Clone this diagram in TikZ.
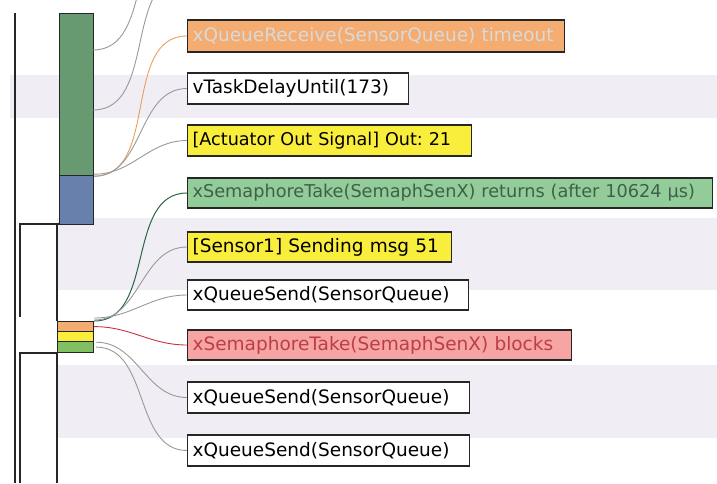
\documentclass[tikz,border=0pt]{standalone}
\usepackage{fontspec}
\setmainfont{DejaVu Sans}
\usepackage{xcolor}
\usetikzlibrary{positioning}

\definecolor{runcol}{RGB}{104,154,114}
\definecolor{waitcol}{RGB}{104,128,172}
\definecolor{orangecol}{RGB}{244,172,112}
\definecolor{yellowcol}{RGB}{250,238,60}
\definecolor{greencol}{RGB}{146,204,152}
\definecolor{redcol}{RGB}{246,164,164}
\definecolor{stackgreen}{RGB}{128,192,96}
\definecolor{bandcol}{RGB}{241,237,245}
\definecolor{redline}{RGB}{200,50,64}
\definecolor{greenline}{RGB}{40,104,64}

\begin{document}
\begin{tikzpicture}[
  x=1pt, y=-1pt,
  evt/.style={draw=black!85, line width=1.2pt, fill=white, anchor=west,
    inner xsep=5pt, inner ysep=0pt, align=left,
    font=\fontsize{18.5}{20}\selectfont},
  orangeevt/.style={evt, fill=orangecol, text=white!85!black},
  yellowevt/.style={evt, fill=yellowcol},
  greenevt/.style={evt, fill=greencol, text={rgb,255:red,64;green,96;blue,74},
    font=\fontsize{17.7}{20}\selectfont},
  redevt/.style={evt, fill=redcol, text={rgb,255:red,188;green,62;blue,72}},
  block/.style={draw=black!85, line width=1.2pt, anchor=north west, inner sep=0pt},
  lane/.style={line width=1.2pt, black!85},
  link/.style={draw=gray!80, line width=0.9pt},
  orangelink/.style={draw={rgb,255:red,232;green,160;blue,90}, line width=0.9pt},
  redlink/.style={draw=redline, line width=0.9pt},
  greenlink/.style={draw=greenline, line width=1pt}
]
\path[use as bounding box, clip] (0,0) rectangle (717,483);

% row bands
\fill[bandcol] (10,75) rectangle (717,118);
\fill[bandcol] (57,218) rectangle (717,290);
\fill[bandcol] (57,365) rectangle (717,438);

% task lanes
\draw[lane] (15,13) -- (15,483);
\draw[lane] (20,317) -- (20,224) -- (59,224);
\draw[lane] (57,224) -- (57,321);
\draw[lane] (20,483) -- (20,353) -- (57,353) -- (57,483);

\node[block, fill=runcol, minimum width=34, minimum height=162] (run) at (59,13) {};
\node[block, fill=waitcol, minimum width=34, minimum height=49] (wait) at (59,175) {};
\node[block, fill=orangecol, minimum width=36, minimum height=10] (so) at (57,321) {};
\node[block, fill=yellowcol, minimum width=36, minimum height=10] (sy) at (57,331) {};
\node[block, fill=stackgreen, minimum width=36, minimum height=11] (sg) at (57,341) {};

% events
\node[orangeevt, text width=367, minimum height=32] (qrecv) at (187,36) {xQueueReceive(SensorQueue) timeout};
\node[evt, text width=211, minimum height=31] (delay) at (187,88.5) {vTaskDelayUntil(173)};
\node[yellowevt, text width=274, minimum height=31, font=\fontsize{17.6}{20}\selectfont] (actout) at (187,140.5) {[Actuator Out Signal] Out:\ 21};
\node[greenevt, text width=515, minimum height=30] (semret) at (187,193) {xSemaphoreTake(SemaphSenX) returns (after 10624 µs)};
\node[yellowevt, text width=254, minimum height=30] (sendmsg) at (187,247) {[Sensor1] Sending msg 51};
\node[evt, text width=271, minimum height=30] (qsendA) at (187,295) {xQueueSend(SensorQueue)};
\node[redevt, text width=374, minimum height=30] (semblk) at (187,345) {xSemaphoreTake(SemaphSenX) blocks};
\node[evt, text width=272, minimum height=31] (qsendB) at (187,397.5) {xQueueSend(SensorQueue)};
\node[evt, text width=272, minimum height=31] (qsendC) at (187,450.5) {xQueueSend(SensorQueue)};

% links
\coordinate (ex1) at (93,50);
\coordinate (ex2) at (93,110);
\coordinate (up1) at (187,-80);
\coordinate (up2) at (187,-25);
\draw[link] (ex1) to[out=0,in=180] (up1);
\draw[link] (ex2) to[out=0,in=180] (up2);
\draw[orangelink] (run.south east) to[out=0,in=180] (qrecv.west);
\draw[link] (run.south east) to[out=0,in=180] (delay.west);
\draw[link] ([yshift=2]run.south east) to[out=0,in=180] (actout.west);
\draw[greenlink] (so.north east) to[out=0,in=180] (semret.west);
\draw[link] ([yshift=1]so.north east) to[out=0,in=180] (sendmsg.west);
\draw[link] ([yshift=3]so.north east) to[out=0,in=180] (qsendA.west);
\draw[redlink] (so.east) to[out=0,in=180] (semblk.west);
\draw[link] ([xshift=2]sy.south east) to[out=0,in=180] (qsendB.west);
\draw[link] ([xshift=2]sg.east) to[out=0,in=180] (qsendC.west);
\end{tikzpicture}
\end{document}
